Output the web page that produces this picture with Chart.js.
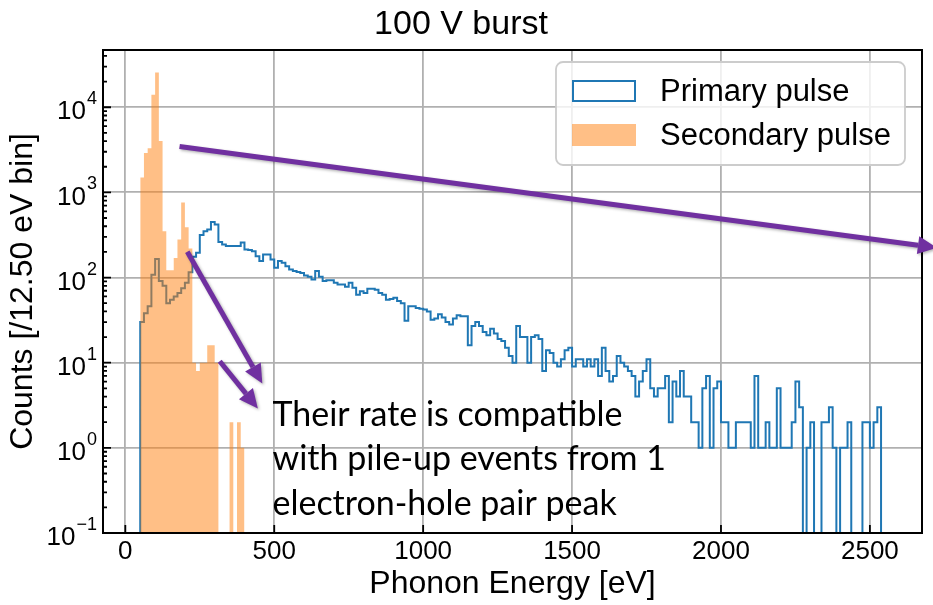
<!DOCTYPE html>
<html>
<head>
<meta charset="utf-8">
<title>100 V burst</title>
<script src="https://cdn.jsdelivr.net/npm/chart.js@4.4.1/dist/chart.umd.min.js"></script>
<style>
  html, body { margin: 0; padding: 0; background: #fff; }
  canvas { display: block; }
</style>
</head>
<body>
<canvas id="myChart" width="933" height="605"></canvas>
<script>
// histogram binning, eV
const binStart = 50;
const binWidth = 12.5;

// counts per 12.5 eV bin (bins start at 50 eV)
const primaryCounts = [
  30, 38, 46, 108, 165, 91, 80, 50, 55, 60,
  66, 75, 87, 115, 175, 195, 315, 350, 367, 448,
  421, 262, 245, 234, 234, 234, 234, 258, 213, 210,
  204, 178, 156, 187, 187, 163, 130, 156, 149, 136,
  124, 119, 116, 113, 106, 102, 95, 119, 102, 91,
  93, 93, 87, 83, 83, 78, 87, 76, 63, 69,
  66, 74, 74, 72, 66, 63, 55, 56, 58, 53,
  50, 31, 46, 46, 44, 43, 42, 40, 32, 33,
  37, 34, 30, 28, 33, 36, 35, 35, 16, 27,
  30, 27, 23, 21, 25, 22, 19, 18, 15, 12,
  10, 27, 20, 20, 10, 20, 21, 19, 8, 14,
  13, 10, 9, 11, 14, 15, 9, 11, 11, 9,
  11, 9, 11, 7, 15, 8, 6, 7, 12, 10,
  9, 8, 7, 4, 6, 8, 11, 5, 4, 5,
  5, 7, 2, 6, 4, 8, 4, 4, 2, 2,
  1, 5, 7, 1, 5, 6, 2, 2, 1, 1,
  2, 2, 2, 2, 1, 7, 1, 1, 2, 1,
  1, 5, 1, 1, 1, 2, 6, 3, 0, 1,
  2, 0, 0, 2, 2, 3, 1, 0, 1, 1,
  2, 0, 0, 0, 2, 2, 1, 2, 3, 0
];
const secondaryCounts = [
  1500, 2900, 3300, 14000, 25600, 4000, 350, 122, 122, 170,
  280, 760, 390, 220, 10, 8, 10, 10, 16, 16,
  10, 0, 0, 0, 2, 0, 2, 1
];

const xTicks = [0, 500, 1000, 1500, 2000, 2500];
const yDecades = [-1, 0, 1, 2, 3, 4];

const axisFont = "'Liberation Sans', Arial, sans-serif";
const blue = '#1f77b4';
const orange = 'rgba(255, 127, 14, 0.5)';

// empty bins can't sit on a log axis: push them below the axis so they get clipped
const belowAxis = 1e-3;

// outline of a histogram: one point per left bin edge, plus closing edge
function stepPoints(counts) {
  const pts = [{ x: binStart, y: belowAxis }];
  counts.forEach((c, i) => {
    pts.push({ x: binStart + i * binWidth, y: c > 0 ? c : belowAxis });
  });
  pts.push({ x: binStart + counts.length * binWidth, y: belowAxis });
  return pts;
}

// overlay: frame, inward ticks, y labels with exponents, legend, slide annotations
const arrows = [
  { from: [182, 3460], to: [2725, 224] },
  { from: [208, 201], to: [460, 5.7] },
  { from: [317, 10.4], to: [445, 2.9] }
];
const noteLines = ['Their rate is compatible', 'with pile-up events from 1', 'electron-hole pair peak'];
const noteAnchor = [494, 1.82];

function drawArrow(ctx, x1, y1, x2, y2) {
  const ang = Math.atan2(y2 - y1, x2 - x1);
  const len = 19, half = 9;
  const bx = x2 - len * Math.cos(ang), by = y2 - len * Math.sin(ang);
  ctx.beginPath();
  ctx.moveTo(x1, y1);
  ctx.lineTo(bx, by);
  ctx.stroke();
  ctx.beginPath();
  ctx.moveTo(x2, y2);
  ctx.lineTo(bx + half * Math.sin(ang), by - half * Math.cos(ang));
  ctx.lineTo(bx - half * Math.sin(ang), by + half * Math.cos(ang));
  ctx.closePath();
  ctx.fill();
}

const decor = {
  id: 'decor',
  afterDatasetsDraw(chart) {
    const { ctx, chartArea: a, scales: { x, y } } = chart;
    ctx.save();
    ctx.strokeStyle = '#000';
    ctx.lineWidth = 1.8;
    ctx.beginPath();
    xTicks.forEach(v => {
      const px = x.getPixelForValue(v);
      ctx.moveTo(px, a.bottom);
      ctx.lineTo(px, a.bottom - 8);
    });
    yDecades.forEach(d => {
      for (let m = 1; m <= 9; m++) {
        const v = m * Math.pow(10, d);
        if (v > y.max) break;
        const py = y.getPixelForValue(v);
        ctx.moveTo(a.left, py);
        ctx.lineTo(a.left + (m === 1 ? 8 : 4), py);
      }
    });
    ctx.stroke();
    ctx.lineWidth = 2;
    ctx.strokeRect(a.left, a.top, a.right - a.left, a.bottom - a.top);
    ctx.restore();
  },
  afterDraw(chart) {
    const { ctx, chartArea: a, scales: { x, y } } = chart;
    ctx.save();

    // y tick labels 10^n
    ctx.fillStyle = '#000';
    ctx.textAlign = 'right';
    ctx.textBaseline = 'middle';
    yDecades.forEach(d => {
      const py = y.getPixelForValue(Math.pow(10, d));
      const exp = d < 0 ? '\u2212' + (-d) : String(d);
      ctx.font = '18px ' + axisFont;
      const ew = ctx.measureText(exp).width;
      ctx.fillText(exp, a.left - 6, py - 8);
      ctx.font = '26px ' + axisFont;
      ctx.fillText('10', a.left - 7 - ew, py + 5);
    });

    // legend box
    const lw = 349, lh = 103;
    const lx = a.right - 17 - lw, ly = a.top + 12;
    ctx.beginPath();
    ctx.roundRect(lx, ly, lw, lh, 7);
    ctx.fillStyle = 'rgba(255,255,255,0.8)';
    ctx.fill();
    ctx.strokeStyle = '#cccccc';
    ctx.lineWidth = 1.8;
    ctx.stroke();
    ctx.textAlign = 'left';
    ctx.font = '31px ' + axisFont;
    const entries = [chart.data.datasets[0], chart.data.datasets[1]];
    entries.forEach((ds, i) => {
      const cy = ly + 29 + i * 44;
      if (ds.fill) {
        ctx.fillStyle = ds.backgroundColor;
        ctx.fillRect(lx + 16, cy - 11, 64, 22);
      } else {
        ctx.strokeStyle = ds.borderColor;
        ctx.lineWidth = 2;
        ctx.strokeRect(lx + 17, cy - 10, 62, 20);
      }
      ctx.fillStyle = '#000';
      ctx.fillText(ds.label, lx + 104, cy + 1);
    });

    // annotations
    ctx.strokeStyle = '#7030a0';
    ctx.fillStyle = '#7030a0';
    ctx.lineWidth = 5;
    ctx.lineCap = 'butt';
    ctx.shadowColor = 'rgba(0,0,0,0.3)';
    ctx.shadowBlur = 3;
    ctx.shadowOffsetX = 1.5;
    ctx.shadowOffsetY = 1.5;
    arrows.forEach(ar => {
      drawArrow(ctx,
        x.getPixelForValue(ar.from[0]), y.getPixelForValue(ar.from[1]),
        x.getPixelForValue(ar.to[0]), y.getPixelForValue(ar.to[1]));
    });
    ctx.shadowColor = 'rgba(0,0,0,0)';
    ctx.fillStyle = '#000';
    ctx.font = '34px Lato, sans-serif';
    ctx.textBaseline = 'alphabetic';
    const tx = x.getPixelForValue(noteAnchor[0]);
    const ty = y.getPixelForValue(noteAnchor[1]);
    noteLines.forEach((t, i) => ctx.fillText(t, tx, ty + i * 44.5));

    ctx.restore();
  }
};

const ctx = document.getElementById('myChart');

new Chart(ctx, {
  type: 'line',
  data: {
    datasets: [{
      label: 'Primary pulse',
      data: stepPoints(primaryCounts),
      borderColor: blue,
      borderWidth: 2,
      stepped: true,
      fill: false,
      pointRadius: 0,
      order: 2
    }, {
      label: 'Secondary pulse',
      data: stepPoints(secondaryCounts),
      borderColor: 'rgba(0,0,0,0)',
      backgroundColor: orange,
      borderWidth: 0,
      stepped: true,
      fill: 'start',
      pointRadius: 0,
      order: 1
    }]
  },
  options: {
    responsive: false,
    animation: false,
    devicePixelRatio: 1,
    layout: { padding: { left: 0, right: 11, top: 0, bottom: 0 } },
    scales: {
      x: {
        type: 'linear',
        min: -75,
        max: 2675,
        afterBuildTicks: s => { s.ticks = xTicks.map(v => ({ value: v })); },
        ticks: {
          maxRotation: 0,
          autoSkip: false,
          padding: 3,
          color: '#000',
          font: { family: axisFont, size: 26 },
          callback: v => String(v)
        },
        grid: { color: '#b0b0b0', lineWidth: 1.8, drawTicks: false },
        border: { display: false },
        title: {
          display: true,
          text: 'Phonon Energy [eV]',
          color: '#000',
          font: { family: axisFont, size: 32 },
          padding: { top: 0, bottom: 2 }
        },
        afterFit: s => { s.height = 72; }
      },
      y: {
        type: 'logarithmic',
        min: 0.1,
        max: 47000,
        ticks: { display: false },
        grid: {
          color: c => {
            const l = Math.log10(c.tick.value);
            return Math.abs(l - Math.round(l)) < 1e-9 ? '#b0b0b0' : 'rgba(0,0,0,0)';
          },
          lineWidth: 1.8,
          drawTicks: false
        },
        border: { display: false },
        title: {
          display: true,
          text: 'Counts [/12.50 eV bin]',
          color: '#000',
          font: { family: axisFont, size: 32 },
          padding: { top: 4, bottom: 0 }
        },
        afterFit: s => { s.width = 103; }
      }
    },
    plugins: {
      legend: { display: false },
      tooltip: { enabled: false },
      title: {
        display: true,
        text: '100 V burst',
        color: '#000',
        font: { family: axisFont, size: 34, weight: 'normal' },
        padding: { top: 4.6, bottom: 4.6 }
      }
    }
  },
  plugins: [decor]
});
</script>
</body>
</html>
